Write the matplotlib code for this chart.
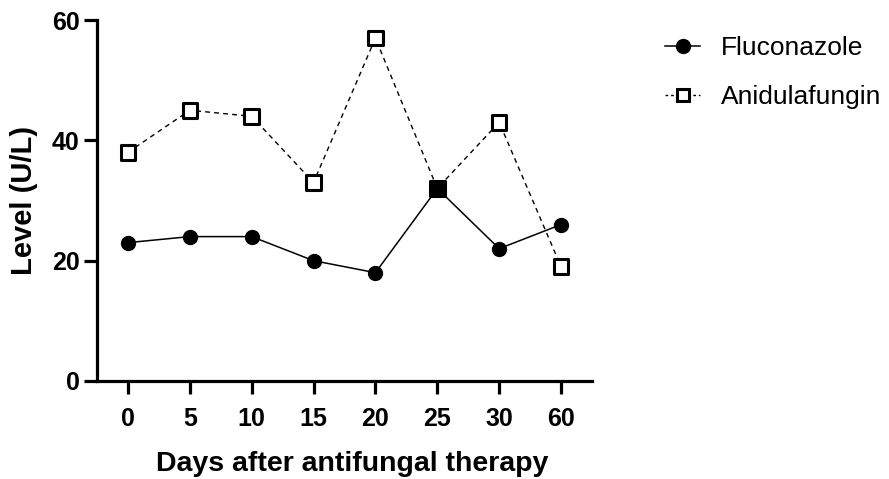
import numpy as np
import matplotlib.pyplot as plt

plt.rcParams['font.family'] = ['Liberation Sans', 'DejaVu Sans']

# Data
days = ['0', '5', '10', '15', '20', '25', '30', '60']
fluconazole = [23, 24, 24, 20, 18, 32, 22, 26]
anidulafungin = [38, 45, 44, 33, 57, 32, 43, 19]

x = np.arange(len(days))

fig = plt.figure(figsize=(8.89, 4.79), dpi=100)
ax = fig.add_axes([0.1091, 0.2046, 0.5568, 0.7536])

# Fluconazole: solid line with filled circles
ax.plot(x, fluconazole, color='black', lw=1.1, marker='o', markersize=10,
        markerfacecolor='black', markeredgecolor='black', zorder=3,
        label='Fluconazole')

# Anidulafungin: dashed line with open squares (filled where it overlaps)
ax.plot(x, anidulafungin, color='black', lw=1.0, linestyle=(0, (3.5, 3)),
        zorder=4)
faces = ['black' if a == f else 'white' for a, f in zip(anidulafungin, fluconazole)]
ax.scatter(x, anidulafungin, s=110, marker='s', facecolors=faces,
           edgecolors='black', linewidths=2.2, zorder=5)
# legend proxy
ax.plot([], [], color='black', lw=1.0, linestyle=(0, (2, 2)), marker='s',
        markersize=8.5, markerfacecolor='white', markeredgecolor='black',
        markeredgewidth=2.2, label='Anidulafungin')

ax.set_xlim(-0.5, len(days) - 0.5)
ax.set_ylim(0, 60)
ax.set_xticks(x)
ax.set_xticklabels(days)
ax.set_yticks([0, 20, 40, 60])

for side in ('top', 'right'):
    ax.spines[side].set_visible(False)
for side in ('left', 'bottom'):
    ax.spines[side].set_linewidth(2.3)

ax.tick_params(axis='both', width=2.3, length=9.5, labelsize=18)
for lab in ax.get_xticklabels() + ax.get_yticklabels():
    lab.set_fontweight('bold')
ax.tick_params(axis='x', pad=9)
ax.tick_params(axis='y', pad=3)

ax.set_xlabel('Days after antifungal therapy', fontsize=20.5, fontweight='bold',
              labelpad=16)
ax.xaxis.set_label_coords(0.516, -0.195)
ax.set_ylabel('Level (U/L)', fontsize=21, fontweight='bold', labelpad=10)

leg = fig.legend(loc='upper left', bbox_to_anchor=(665 / 889, 1 - 36 / 479),
                 frameon=False, fontsize=19, handlelength=1.33,
                 handletextpad=0.8, labelspacing=0.95, borderpad=0,
                 borderaxespad=0)

fig.savefig('out.png', dpi=100)
